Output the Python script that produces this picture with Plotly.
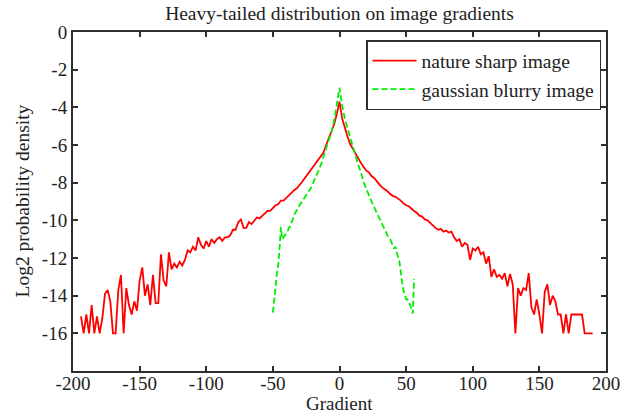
import plotly.graph_objects as go

# ---------------- data ----------------
red_grad = [-194, -192, -190, -188, -186, -184, -182, -180, -178, -176, -174, -172, -170, -168, -166, -164,
            -162, -160, -158, -156, -154, -152, -150, -148, -146, -144, -142, -140, -138, -136, -134, -132,
            -130, -128, -126, -124, -122, -120, -118, -116, -114, -112, -110, -108, -106, -104, -102, -100,
            -98, -96, -94, -92, -90, -88, -86, -84, -82, -80, -78, -76, -74, -72, -70, -68,
            -66, -64, -62, -60, -58, -56, -54, -52, -50, -48, -46, -44, -42, -40, -38, -36,
            -34, -32, -30, -28, -26, -24, -22, -20, -18, -16, -14, -12, -10, -8, -6, -4,
            -2, 0, 2, 4, 6, 8, 10, 12, 14, 16, 18, 20, 22, 24, 26, 28,
            30, 32, 34, 36, 38, 40, 42, 44, 46, 48, 50, 52, 54, 56, 58, 60,
            62, 64, 66, 68, 70, 72, 74, 76, 78, 80, 82, 84, 86, 88, 90, 92,
            94, 96, 98, 100, 102, 104, 106, 108, 110, 112, 114, 116, 118, 120, 122, 124,
            126, 128, 130, 132, 134, 136, 138, 140, 142, 144, 146, 148, 150, 152, 154, 156,
            158, 160, 162, 164, 166, 168, 170, 172, 174, 176, 178, 180, 182, 184, 186, 188,
            190]
red_logp = [-15.1, -16.0, -15.0, -16.0, -14.5, -16.0, -15.1, -16.0, -15.2, -13.9, -13.7, -14.3, -16.0, -16.0, -13.7, -12.9,
            -16.0, -13.6, -14.5, -15.0, -14.3, -14.8, -13.2, -12.5, -14.0, -13.4, -14.5, -12.9, -14.4, -14.4, -11.8, -13.2,
            -13.5, -11.7, -12.6, -12.3, -12.5, -12.2, -12.4, -12.1, -11.6, -11.7, -11.4, -11.6, -10.9, -11.3, -11.5, -11.1,
            -11.4, -11.0, -11.2, -11.0, -10.9, -11.1, -10.9, -10.9, -10.8, -10.5, -10.5, -10.1, -9.95, -10.4, -10.4, -10.1,
            -10.2, -10.0, -9.85, -9.9, -9.75, -9.65, -9.5, -9.5, -9.35, -9.2, -9.15, -8.95, -8.95, -8.8, -8.65, -8.55,
            -8.4, -8.3, -8.15, -7.95, -7.75, -7.55, -7.35, -7.2, -7.0, -6.8, -6.6, -6.4, -6.0, -5.65, -5.3, -4.9,
            -4.35, -3.7, -4.6, -5.1, -5.55, -5.95, -6.2, -6.5, -6.75, -6.95, -7.15, -7.35, -7.45, -7.65, -7.75, -7.95,
            -8.1, -8.25, -8.35, -8.45, -8.6, -8.7, -8.75, -8.85, -8.95, -9.1, -9.2, -9.25, -9.4, -9.5, -9.6, -9.75,
            -9.8, -9.95, -10.0, -10.15, -10.3, -10.4, -10.5, -10.45, -10.6, -10.55, -10.65, -10.6, -10.9, -11.1, -11.0, -11.4,
            -11.2, -11.3, -12.1, -11.5, -11.6, -11.4, -11.8, -11.7, -12.3, -11.9, -13.0, -12.6, -13.0, -12.9, -13.1, -12.8,
            -13.5, -12.85, -13.4, -16.0, -13.6, -14.0, -13.6, -13.7, -12.8, -14.6, -15.0, -14.2, -15.0, -16.0, -13.8, -13.4,
            -14.5, -14.0, -14.3, -15.0, -15.0, -16.0, -15.0, -16.0, -15.0, -15.0, -15.0, -15.0, -15.0, -16.0, -16.0, -16.0,
            -16.0]

green_grad = [-50, -49, -48, -47, -46, -45, -44, -43, -42, -41, -40, -39, -38, -37, -36, -35,
              -34, -33, -32, -30, -28, -26, -24, -22, -20, -18, -16, -14, -12, -10, -8, -6,
              -4, -2, 0, 2, 4, 6, 8, 10, 12, 14, 16, 18, 20, 22, 24, 26,
              28, 30, 32, 34, 36, 38, 40, 41, 42, 43, 44, 45, 46, 47, 48, 49,
              50, 51, 52, 53, 54, 55, 56]
green_logp = [-14.9, -14.0, -13.6, -12.8, -12.4, -11.5, -10.35, -11.0, -10.9, -10.8, -10.75, -10.6, -10.4, -10.3, -10.1, -9.95,
              -9.7, -9.55, -9.45, -9.2, -9.0, -8.75, -8.55, -8.35, -8.05, -7.75, -7.4, -7.05, -6.6, -6.2, -5.8, -5.3,
              -4.7, -3.9, -2.95, -3.9, -4.6, -5.1, -5.6, -6.15, -6.6, -7.05, -7.45, -7.95, -8.3, -8.7, -9.0, -9.3,
              -9.6, -9.95, -10.2, -10.5, -10.8, -11.0, -11.3, -11.5, -11.4, -11.8, -12.0, -12.2, -12.9, -13.3, -13.7, -14.0,
              -14.2, -14.2, -14.3, -14.5, -14.8, -14.95, -13.1]

x_tickvals = [-200, -150, -100, -50, 0, 50, 100, 150, 200]
x_ticktext = ["-200", "-150", "-100", "-50", "0", "50", "100", "150", "200"]
y_tickvals = [0, -2, -4, -6, -8, -10, -12, -14, -16]
y_ticktext = ["0", "-2", "-4", "-6", "-8", "-10", "-12", "-14", "-16"]

series_names = ["nature sharp image", "gaussian blurry image"]
title_text = "Heavy-tailed distribution on image gradients"
x_title = "Gradient"
y_title = "Log2 probability density"

# ---------------- figure ----------------
FONT = "Liberation Serif, Times New Roman, serif"
AXC = "#2e2e2e"
TXC = "#222222"
FS = 19

fig = go.Figure()
fig.add_trace(go.Scatter(x=red_grad, y=red_logp, mode="lines", name=series_names[0],
                         line=dict(color="#ff0000", width=1.8)))
fig.add_trace(go.Scatter(x=green_grad, y=green_logp, mode="lines", name=series_names[1],
                         line=dict(color="#00ee00", width=1.8, dash="6px,3px")))

axis_common = dict(showline=True, linecolor=AXC, linewidth=2, mirror="ticks",
                   ticks="inside", ticklen=5, tickwidth=1.5, tickcolor=AXC,
                   showgrid=False, zeroline=False, automargin=False,
                   tickfont=dict(family=FONT, size=FS, color=TXC))

fig.update_xaxes(range=[-200, 200], tickvals=x_tickvals, ticktext=x_ticktext,
                 ticklabelstandoff=-6, **axis_common)
fig.update_yaxes(range=[-18, 0], tickvals=y_tickvals, ticktext=y_ticktext, **axis_common)

L, R, T, B = 73, 28, 32, 43
W, H = 634, 414
plot_w, plot_h = W - L - R, H - T - B

fig.update_layout(
    width=W, height=H,
    margin=dict(l=L, r=R, t=T, b=B),
    paper_bgcolor="white", plot_bgcolor="white",
    title=dict(text=title_text, x=0.5, xref="paper", xanchor="center",
               y=1 - 13 / H, yref="container", yanchor="middle",
               font=dict(family=FONT, size=FS + 0.5, color=TXC)),
    legend=dict(x=(601 - L) / plot_w, y=1 - (40 - T) / plot_h, xanchor="right", yanchor="top",
                bordercolor=AXC, borderwidth=1.5, bgcolor="white",
                font=dict(family=FONT, size=FS + 0.5, color=TXC),
                tracegroupgap=0, itemwidth=44),
    showlegend=True,
    annotations=[
        dict(text=x_title, xref="paper", yref="paper", x=0.5, y=-(403 - (H - B)) / plot_h,
             xanchor="center", yanchor="middle", showarrow=False,
             font=dict(family=FONT, size=FS, color=TXC)),
        dict(text=y_title, xref="paper", yref="paper", x=-(L - 22) / plot_w, y=0.5,
             xanchor="center", yanchor="middle", showarrow=False, textangle=-90,
             font=dict(family=FONT, size=FS + 0.5, color=TXC)),
    ],
)

fig.write_html("out.html", config={"displayModeBar": False},
               post_script="document.body.style.margin='0';document.body.style.overflow='hidden';")
